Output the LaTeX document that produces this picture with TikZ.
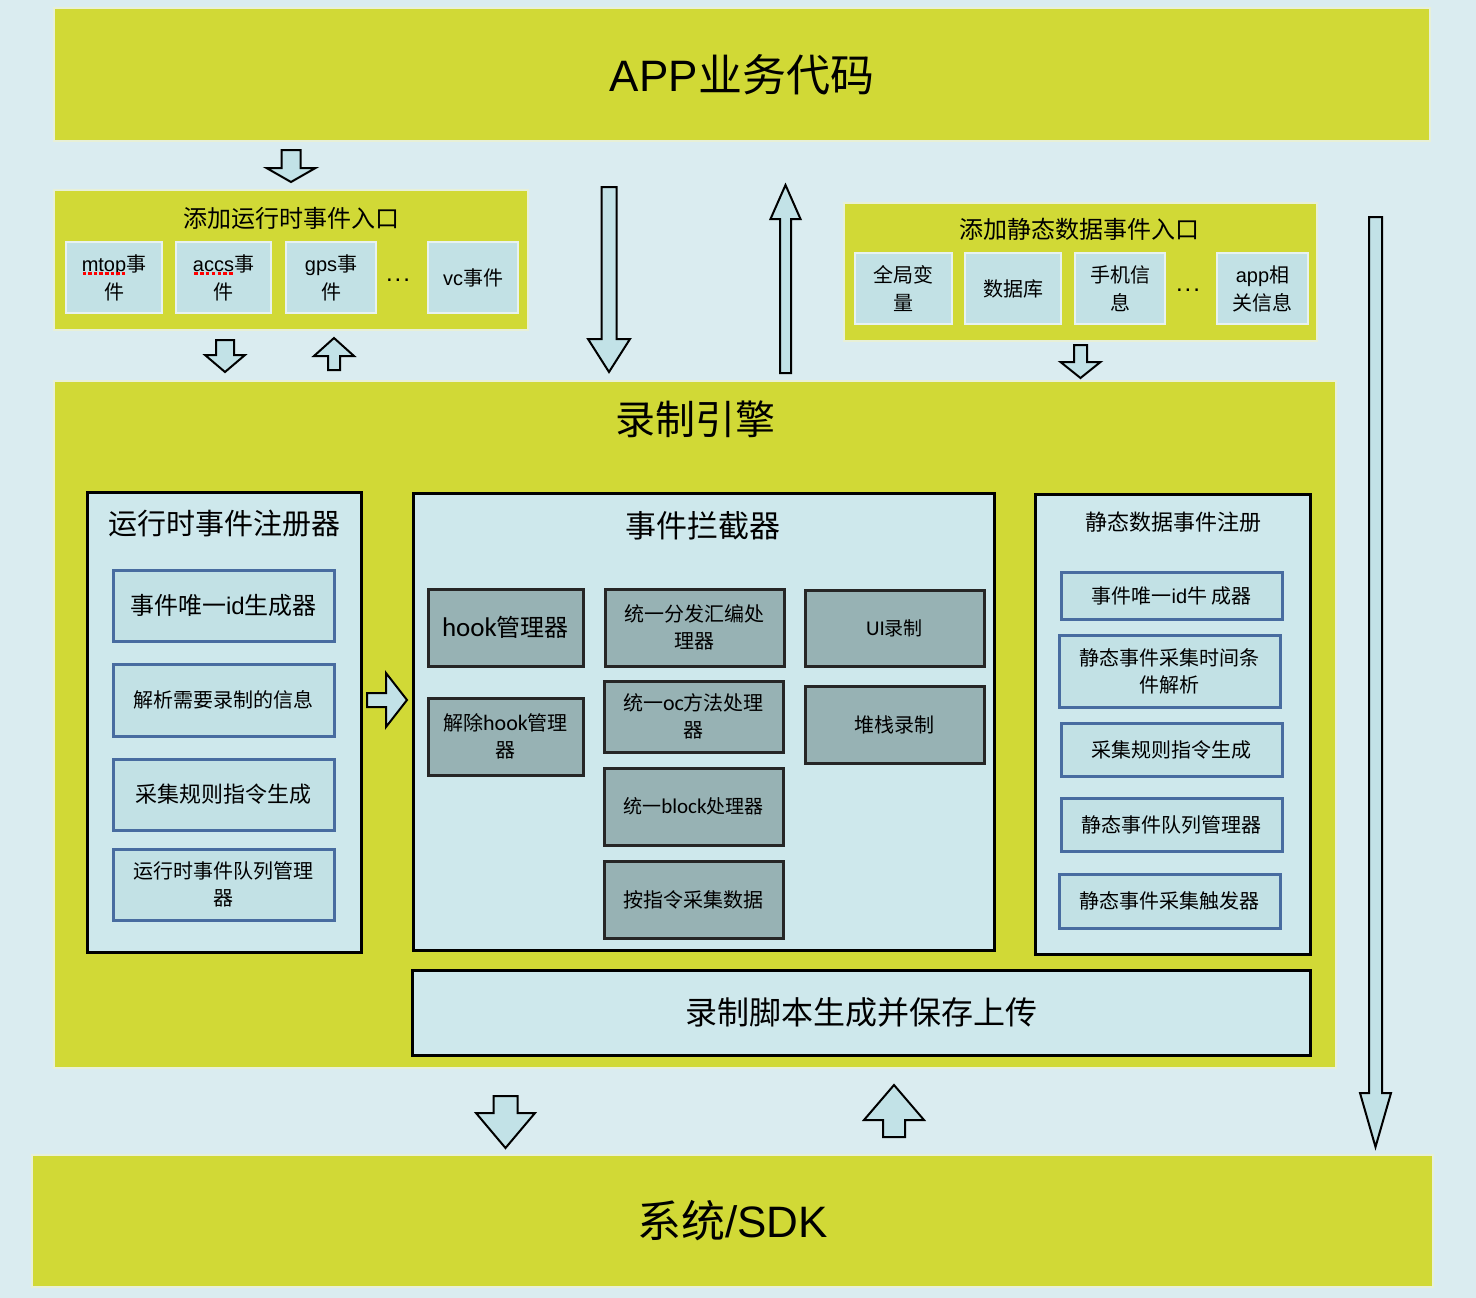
\documentclass[tikz,border=0pt]{standalone}
\usepackage{fontspec}
\setmainfont{Noto Sans CJK SC}
\newfontfamily\latf{Liberation Sans}
\newfontfamily\carf{Carlito}
\definecolor{bg}{RGB}{218,236,240}
\definecolor{ylw}{RGB}{209,217,54}
\definecolor{ylwedge}{RGB}{232,240,215}
\definecolor{lbox}{RGB}{206,232,236}
\definecolor{sbox}{RGB}{194,225,229}
\definecolor{sedge}{RGB}{232,242,240}
\definecolor{gbox}{RGB}{151,178,180}
\definecolor{bbord}{RGB}{72,108,160}
\definecolor{afill}{RGB}{194,226,231}
\newcommand\fz[2]{\fontsize{#1}{#2}\selectfont}
\newlength\sqw
\newcommand\redsq[1]{\settowidth{\sqw}{#1}\rlap{#1}\raisebox{-3.5pt}{\textcolor{red}{\xleaders\hbox to 5.5pt{\hss\rule{3.6pt}{3pt}\hss}\hskip\sqw}}}
\newcommand\varrow[6]{\draw[barrow] ({#1-#5},#2) -- ({#1+#5},#2) -- ({#1+#5},#3) -- ({#1+#6},#3) -- (#1,#4) -- ({#1-#6},#3) -- ({#1-#5},#3) -- cycle;}
\newcommand\harrow[6]{\draw[barrow] (#2,{#1-#5}) -- (#2,{#1+#5}) -- (#3,{#1+#5}) -- (#3,{#1+#6}) -- (#4,#1) -- (#3,{#1-#6}) -- (#3,{#1-#5}) -- cycle;}
\tikzset{
  base/.style={inner sep=0pt, align=center, text=black},
  band/.style={base, fill=ylw, draw=ylwedge, line width=2pt},
  panel/.style={base, fill=lbox, draw=black, line width=3pt},
  item/.style={base, fill=sbox, draw=bbord, line width=3pt, font={\fz{20}{27}}},
  gitem/.style={base, fill=gbox, draw=black!85, line width=3pt, font={\fz{20}{27}}},
  entry/.style={base, fill=sbox, draw=sedge, line width=2.5pt, font={\fz{20}{28}}},
  ttl/.style={base},
  barrow/.style={fill=afill, draw=black, line width=2pt, line join=miter},
}
\begin{document}
\begin{tikzpicture}[x=1pt,y=-1pt]
\useasboundingbox (0,0) rectangle (1476,1298);
\fill[bg] (0,0) rectangle (1476,1298);

% top band
\node[band, minimum width=1376, minimum height=133, font={\fz{44}{50}}] (app) at (742,74.5) {{\latf APP}业务代码};

% left entry
\node[band, minimum width=474, minimum height=140] (lentry) at (291,260) {};
\node[ttl, font={\fz{24}{30}}] (lentryt) at (291,218) {添加运行时事件入口};
\node[entry, minimum width=96, minimum height=71] (mtop) at (114,277.5) {\redsq{\latf mtop}事\\件};
\node[entry, minimum width=95, minimum height=71] (accs) at (223.5,277.5) {\redsq{\latf accs}事\\件};
\node[entry, minimum width=90, minimum height=71] (gps) at (331,277.5) {{\latf gps}事\\件};
\node[base, font={\latf\fz{24}{28}}] (ldots) at (398,280) {.\hspace{2pt}.\hspace{2pt}.};
\node[entry, minimum width=90, minimum height=71] (vc) at (473,277.5) {{\latf vc}事件};

% right entry
\node[band, minimum width=473, minimum height=138] (rentry) at (1080.5,272) {};
\node[ttl, font={\fz{24}{30}}] (rentryt) at (1079,229) {添加静态数据事件入口};
\node[entry, minimum width=97, minimum height=71] (glob) at (903.5,288.5) {全局变\\量};
\node[entry, minimum width=96, minimum height=71] (db) at (1013,288.5) {数据库};
\node[entry, minimum width=90, minimum height=71] (phone) at (1120,288.5) {手机信\\息};
\node[base, font={\latf\fz{24}{28}}] (rdots) at (1188,290) {.\hspace{2pt}.\hspace{2pt}.};
\node[entry, minimum width=91, minimum height=71] (appinfo) at (1262.5,288.5) {{\latf app}相\\关信息};

% engine
\node[band, minimum width=1282, minimum height=687] (engine) at (695,724.5) {};
\node[ttl, font={\fz{40}{46}}] (enginet) at (695,419) {录制引擎};

% left register
\node[panel, minimum width=274, minimum height=460] (lreg) at (224,722) {};
\node[ttl, font={\fz{29}{34}}] (lregt) at (224,524) {运行时事件注册器};
\node[item, minimum width=221, minimum height=71, font={\fz{24}{30}}] (l1) at (223.5,605.5) {事件唯一{\latf id}生成器};
\node[item, minimum width=221, minimum height=72] (l2) at (223.5,700) {解析需要录制的信息};
\node[item, minimum width=221, minimum height=71, font={\fz{22}{28}}] (l3) at (223.5,794.5) {采集规则指令生成};
\node[item, minimum width=221, minimum height=71] (l4) at (223.5,884.5) {运行时事件队列管理\\器};

% interceptor
\node[panel, minimum width=581, minimum height=457] (icpt) at (703.5,721.5) {};
\node[ttl, font={\fz{31}{36}}] (icptt) at (703,526) {事件拦截器};
\node[gitem, minimum width=155, minimum height=77, font={\fz{24}{30}}] (hook) at (505.5,627.5) {{\carf\fz{27}{30}hook}管理器};
\node[gitem, minimum width=155, minimum height=77] (unhook) at (505.5,736.5) {解除{\carf\fz{22}{27}hook}管理\\器};
\node[gitem, minimum width=179, minimum height=77] (asm) at (694.5,627.5) {统一分发汇编处\\理器};
\node[gitem, minimum width=179, minimum height=71] (oc) at (693.5,716.5) {统一{\carf\fz{22}{27}oc}方法处理\\器};
\node[gitem, minimum width=179, minimum height=77, font={\fz{19}{26}}] (blk) at (693.5,806.5) {统一{\carf\fz{21}{26}block}处理器};
\node[gitem, minimum width=179, minimum height=77] (cmd) at (693.5,899.5) {按指令采集数据};
\node[gitem, minimum width=179, minimum height=76, font={\fz{19}{26}}] (ui) at (894.5,628) {{\carf\fz{21}{26}UI}录制};
\node[gitem, minimum width=179, minimum height=77] (stack) at (894.5,724.5) {堆栈录制};

% static register
\node[panel, minimum width=275, minimum height=460] (sreg) at (1172.5,724) {};
\node[ttl, font={\fz{22}{28}}] (sregt) at (1173,522) {静态数据事件注册};
\node[item, minimum width=221, minimum height=47] (s1) at (1171.5,595.5) {事件唯一{\latf id}牛\hspace{0.2em}成器};
\node[item, minimum width=221, minimum height=72] (s2) at (1169.5,671) {静态事件采集时间条\\件解析};
\node[item, minimum width=221, minimum height=53] (s3) at (1171.5,749.5) {采集规则指令生成};
\node[item, minimum width=221, minimum height=53] (s4) at (1171.5,824.5) {静态事件队列管理器};
\node[item, minimum width=221, minimum height=54] (s5) at (1169.5,901) {静态事件采集触发器};

% script box
\node[panel, minimum width=898, minimum height=85, font={\fz{32}{38}}] (script) at (861,1012.5) {录制脚本生成并保存上传};

% bottom band
\node[band, minimum width=1401, minimum height=132, font={\fz{44}{50}}] (sdk) at (732.5,1221) {系统{\latf /SDK}};

% block arrows
\varrow{291}{150}{168}{182}{9.5}{24.5}
\varrow{225}{340}{355}{372}{9}{20}
\varrow{334}{370}{356}{338}{6}{20}
\varrow{609}{187}{339}{372}{7.5}{21}
\varrow{785.5}{373}{219}{185}{5.5}{15}
\varrow{1080.5}{345}{362}{378}{6.5}{20}
\varrow{1375.5}{217}{1093}{1147}{6.5}{15.5}
\varrow{505.5}{1096}{1113}{1148}{12}{29.5}
\varrow{894}{1137}{1120}{1085}{11}{30}
\harrow{700}{367}{386}{407}{7}{27}
\end{tikzpicture}
\end{document}
